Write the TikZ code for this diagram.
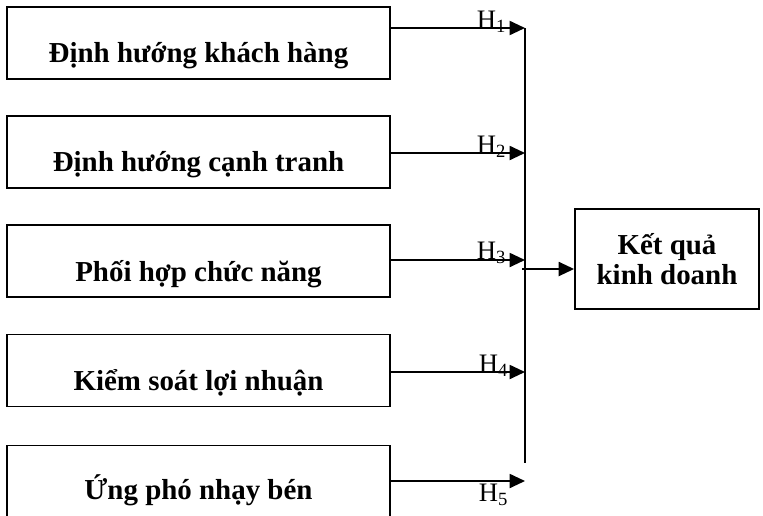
\documentclass[tikz,border=0pt]{standalone}
\usepackage{fontspec}
\setmainfont{Liberation Serif}
\usetikzlibrary{arrows.meta}
\begin{document}
\begin{tikzpicture}[x=0.75pt,y=-0.75pt, line width=1.4pt,
  box/.style={draw, rectangle, inner sep=0pt, minimum width=287.25pt, minimum height=54pt},
  btxt/.style={anchor=base, inner sep=0pt, font=\fontsize{21.7}{26}\selectfont\bfseries},
  hlab/.style={anchor=base west, inner sep=0pt, font=\fontsize{20}{24}\selectfont},
  arr/.style={-{Triangle[length=11.5pt,width=10.5pt]}}]
\useasboundingbox (0,0) rectangle (763,515);
% input boxes
\node[box] (b1) at (198.5,43) {};
\node[box] (b2) at (198.5,152) {};
\node[box] (b3) at (198.5,261) {};
\node[box] (b4) at (198.5,370.5) {};
\node[box] (b5) at (198.5,481.5) {};
\node[btxt] (t1) at (198.5,62) {Định hướng khách hàng};
\node[btxt] (t2) at (198.5,171) {Định hướng cạnh tranh};
\node[btxt] (t3) at (198.5,281) {Phối hợp chức năng};
\node[btxt] (t4) at (198.5,390) {Kiểm soát lợi nhuận};
\node[btxt] (t5) at (198.5,499) {Ứng phó nhạy bén};
% result box
\node[draw, rectangle, inner sep=0pt, minimum width=138pt, minimum height=75pt,
  align=center, font=\fontsize{21.7}{22.5}\selectfont\bfseries] (r) at (667,259) {Kết quả\\kinh doanh};
% junction points on the collector line
\coordinate (j1) at (525,28);
\coordinate (j2) at (525,153);
\coordinate (j3) at (525,260);
\coordinate (j4) at (525,372);
\coordinate (j5) at (525,481);
\coordinate (vend) at (525,463);
\coordinate (o) at (522,269);
% arrows
\draw[arr] (b1.east |- j1) -- (j1);
\draw[arr] (b2.east |- j2) -- (j2);
\draw[arr] (b3.east |- j3) -- (j3);
\draw[arr] (b4.east |- j4) -- (j4);
\draw[arr] (b5.east |- j5) -- (j5);
\draw (j1) -- (vend);
\draw[arr] (o) -- (o -| r.west);
% labels
\node[hlab] (h1) at (476,28) {H\textsubscript{1}};
\node[hlab] (h2) at (476,153) {H\textsubscript{2}};
\node[hlab] (h3) at (476,259) {H\textsubscript{3}};
\node[hlab] (h4) at (478,372) {H\textsubscript{4}};
\node[hlab] (h5) at (478,501) {H\textsubscript{5}};
\end{tikzpicture}
\end{document}
